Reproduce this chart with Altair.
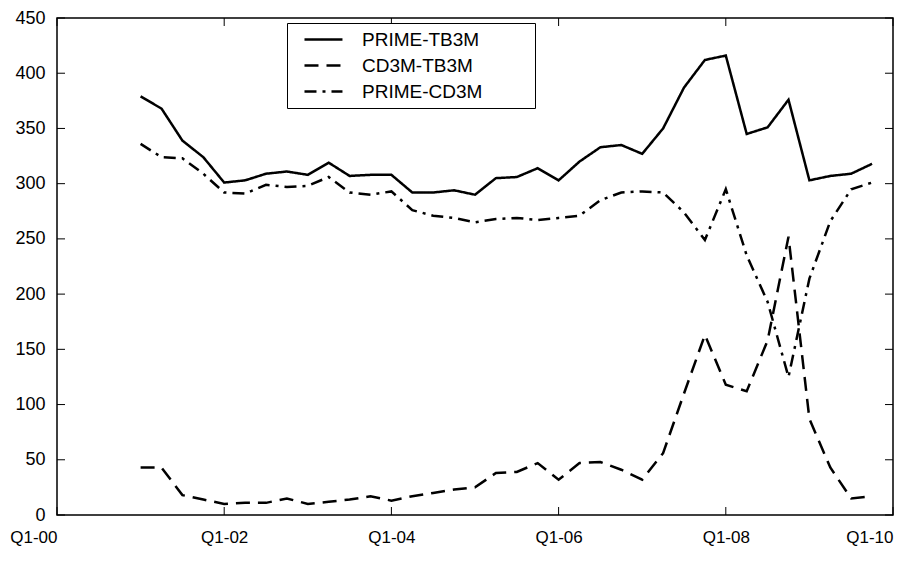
import altair as alt
import pandas as pd

# Quarter index: 0 = Q1-00, 4 = Q1-01, ..., 39 = Q4-09
quarter_index = list(range(4, 40))

prime_tb3m = [379, 368, 339, 324, 301, 303, 309, 311, 308, 319, 307, 308,
              308, 292, 292, 294, 290, 305, 306, 314, 303, 320, 333, 335,
              327, 350, 387, 412, 416, 345, 351, 376, 303, 307, 309, 318]
cd3m_tb3m = [43, 43, 18, 14, 10, 11, 11, 15, 10, 12, 14, 17,
             13, 17, 20, 23, 25, 38, 39, 47, 32, 47, 48, 41,
             32, 56, 110, 163, 118, 112, 158, 252, 87, 43, 15, 17]
prime_cd3m = [336, 324, 323, 309, 292, 291, 299, 297, 298, 306, 292, 290,
              293, 276, 271, 269, 265, 268, 269, 267, 269, 271, 285, 292,
              293, 292, 274, 249, 295, 235, 193, 125, 214, 266, 295, 301]

series_names = ["PRIME-TB3M", "CD3M-TB3M", "PRIME-CD3M"]
x_tick_values = [0, 8, 16, 24, 32, 40]
x_tick_labels = ["Q1-00", "Q1-02", "Q1-04", "Q1-06", "Q1-08", "Q1-10"]
y_tick_values = [0, 50, 100, 150, 200, 250, 300, 350, 400, 450]

rows = []
for name, vals in zip(series_names, [prime_tb3m, cd3m_tb3m, prime_cd3m]):
    for q, v in zip(quarter_index, vals):
        rows.append({"q": q, "value": v, "series": name})
df = pd.DataFrame(rows)

W, H = 836, 497
FONT = "Liberation Sans"
TICK = 8

x_scale = alt.Scale(domain=[0, 40], nice=False, zero=False)
y_scale = alt.Scale(domain=[0, 450], nice=False)

label_expr = "[" + ",".join("'%s'" % l for l in x_tick_labels) + "][round(datum.value / 8)]"

x_axis = alt.Axis(values=x_tick_values, labelExpr=label_expr, title=None, ticks=False,
                  domain=False, grid=False, labelFontSize=17, labelFont=FONT,
                  labelColor="black", labelPadding=14, labelFlush=False,
                  labelAlign=alt.expr("datum.value == 0 || datum.value == 40 ? 'right' : 'center'"))
y_axis = alt.Axis(values=y_tick_values, title=None, ticks=False, domain=False, grid=False,
                  labelFontSize=18, labelFont=FONT, labelColor="black", labelPadding=12,
                  labelFlush=False)

lines = alt.Chart(df).mark_line(strokeWidth=2.5, color="black").encode(
    x=alt.X("q:Q", scale=x_scale, axis=x_axis),
    y=alt.Y("value:Q", scale=y_scale, axis=y_axis),
    strokeDash=alt.StrokeDash(
        "series:N",
        scale=alt.Scale(domain=series_names, range=[[1, 0], [14, 8], [12, 6, 3, 6]]),
        legend=alt.Legend(
            title=None,
            orient="none", legendX=230, legendY=5,
            fillColor="white", strokeColor="black", padding=6,
            symbolType="M0.11,0H4.33M24.4,0", symbolSize=324, symbolStrokeWidth=2.5,
            symbolStrokeColor="black", labelFontSize=19, labelFont=FONT,
            labelColor="black", labelOffset=48, rowPadding=5, labelLimit=400,
        ),
    ),
    order="q:Q",
)

ytick_df = pd.DataFrame({"value": y_tick_values})
xtick_df = pd.DataFrame({"q": x_tick_values})

left_ticks = alt.Chart(ytick_df).mark_rule(color="black", strokeWidth=1).encode(
    y=alt.Y("value:Q", scale=y_scale), x=alt.value(0), x2=alt.value(TICK))
right_ticks = alt.Chart(ytick_df).mark_rule(color="black", strokeWidth=1).encode(
    y=alt.Y("value:Q", scale=y_scale), x=alt.value(W - TICK), x2=alt.value(W))
bottom_ticks = alt.Chart(xtick_df).mark_rule(color="black", strokeWidth=1).encode(
    x=alt.X("q:Q", scale=x_scale), y=alt.value(H - TICK), y2=alt.value(H))
top_ticks = alt.Chart(xtick_df).mark_rule(color="black", strokeWidth=1).encode(
    x=alt.X("q:Q", scale=x_scale), y=alt.value(0), y2=alt.value(TICK))

chart = alt.layer(lines, left_ticks, right_ticks, bottom_ticks, top_ticks).properties(
    width=W, height=H,
    autosize=alt.AutoSizeParams(type="none"),
    padding={"left": 49, "top": 10, "right": 1, "bottom": 61},
    background="white",
).configure_view(stroke="black", strokeWidth=1.5)

chart.save("out.html", embed_options={"renderer": "svg", "actions": False})
